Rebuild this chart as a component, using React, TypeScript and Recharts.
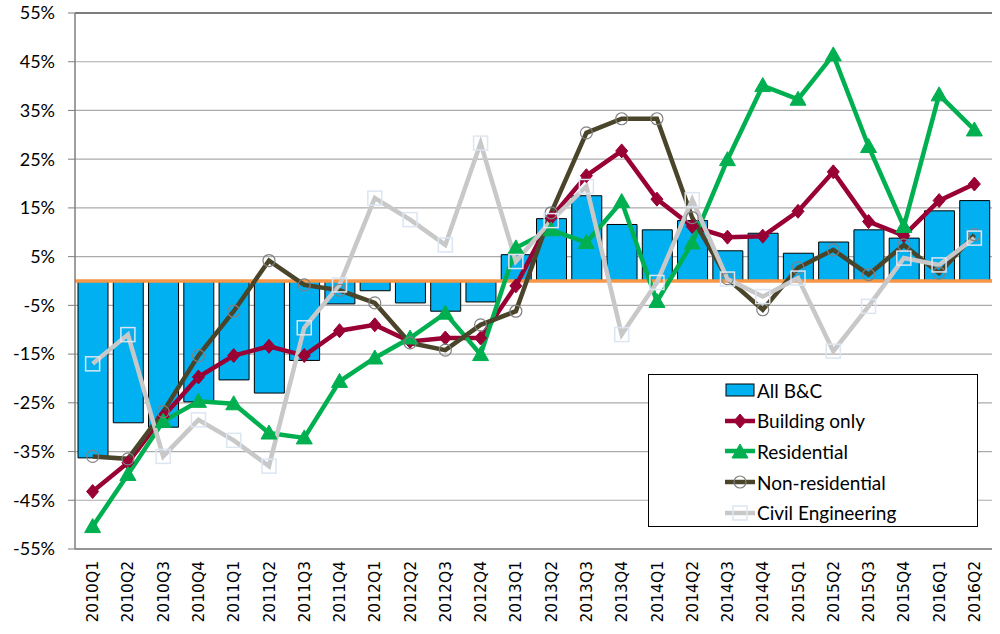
import React from 'react';
import {
  ComposedChart,
  Bar,
  Line,
  XAxis,
  YAxis,
  CartesianGrid,
  ReferenceLine
} from 'recharts';

const quarters = [
  '2010Q1', '2010Q2', '2010Q3', '2010Q4', '2011Q1', '2011Q2', '2011Q3', '2011Q4',
  '2012Q1', '2012Q2', '2012Q3', '2012Q4', '2013Q1', '2013Q2', '2013Q3', '2013Q4',
  '2014Q1', '2014Q2', '2014Q3', '2014Q4', '2015Q1', '2015Q2', '2015Q3', '2015Q4',
  '2016Q1', '2016Q2'
];

const allBC = [
  -36.3, -29.1, -30.0, -24.8, -20.3, -23.0, -16.3, -4.7, -2.0, -4.5, -6.2, -4.3,
  5.4, 12.8, 17.5, 11.6, 10.5, 12.4, 6.2, 9.8, 5.7, 8.0, 10.5, 8.8, 14.4, 16.5
];

const buildingOnly = [
  -43.2, -37.3, -27.8, -19.7, -15.3, -13.4, -15.3, -10.2, -9.0, -12.4, -11.7, -11.7,
  -1.0, 13.0, 21.6, 26.7, 16.8, 11.2, 9.0, 9.2, 14.3, 22.4, 12.2, 9.3, 16.5, 19.9
];

const residential = [
  -50.4, -39.7, -28.8, -24.7, -25.2, -31.2, -32.2, -20.6, -15.8, -11.7, -6.6, -15.1,
  6.8, 10.5, 7.9, 16.3, -4.2, 7.8, 24.9, 40.1, 37.3, 46.4, 27.6, 11.2, 38.2, 31.0
];

const nonResidential = [
  -36.0, -36.5, -26.8, -15.3, -6.2, 4.2, -0.8, -1.9, -4.5, -12.7, -14.2, -9.0,
  -6.2, 14.0, 30.4, 33.3, 33.3, 13.0, 0.5, -5.9, 2.7, 6.4, 1.3, 7.4, 1.6, 9.5
];

const civilEngineering = [
  -17.0, -11.0, -36.0, -28.5, -32.7, -38.0, -9.6, -0.8, 17.0, 12.6, 7.4, 28.3,
  4.0, 12.4, 19.4, -11.0, -0.3, 16.7, 0.4, -3.2, 0.6, -14.4, -5.2, 4.7, 3.3, 8.8
];

const yTicks = [-55, -45, -35, -25, -15, -5, 5, 15, 25, 35, 45, 55];

const data = quarters.map((q, i) => ({
  quarter: q,
  allBC: allBC[i],
  building: buildingOnly[i],
  residential: residential[i],
  nonResidential: nonResidential[i],
  civil: civilEngineering[i]
}));

const RED = '#990033';
const GREEN = '#00B050';
const OLIVE = '#4A452A';
const GREY = '#C8C8C8';
const BLUE = '#00B0F0';

const Diamond = (props: any) => {
  const { cx, cy } = props;
  if (cx == null || cy == null) return null;
  return <path d={`M${cx},${cy - 7}L${cx + 6},${cy}L${cx},${cy + 7}L${cx - 6},${cy}Z`} fill={RED} stroke={RED} />;
};

const Triangle = (props: any) => {
  const { cx, cy } = props;
  if (cx == null || cy == null) return null;
  return <path d={`M${cx},${cy - 8}L${cx + 8},${cy + 6}L${cx - 8},${cy + 6}Z`} fill={GREEN} stroke={GREEN} />;
};

const Ring = (props: any) => {
  const { cx, cy } = props;
  if (cx == null || cy == null) return null;
  return <circle cx={cx} cy={cy} r={6} fill="none" stroke="#808080" strokeWidth={1.2} />;
};

const Square = (props: any) => {
  const { cx, cy } = props;
  if (cx == null || cy == null) return null;
  return <rect x={cx - 7} y={cy - 7} width={14} height={14} fill="none" stroke="#DCE6F2" strokeWidth={1.5} />;
};

const QuarterTick = (props: any) => {
  const { x, y, payload } = props;
  return (
    <g transform={`translate(${x},${y})`}>
      <text
        transform="rotate(-90)"
        textAnchor="end"
        dy="0.36em"
        fill="#000"
        fontFamily="DejaVu Sans"
        fontSize={15.5}
      >
        {payload.value}
      </text>
    </g>
  );
};

const legendItems = [
  { name: 'All B&C', kind: 'bar' },
  { name: 'Building only', kind: 'diamond' },
  { name: 'Residential', kind: 'triangle' },
  { name: 'Non-residential', kind: 'ring' },
  { name: 'Civil Engineering', kind: 'square' }
];

const LegendIcon = ({ kind }: { kind: string }) => {
  if (kind === 'bar') {
    return (
      <svg width={30} height={16}>
        <rect x={1} y={2} width={28} height={12} fill={BLUE} stroke="#000" strokeWidth={1} />
      </svg>
    );
  }
  const color = kind === 'diamond' ? RED : kind === 'triangle' ? GREEN : kind === 'ring' ? OLIVE : GREY;
  return (
    <svg width={30} height={16}>
      <line x1={0} y1={8} x2={30} y2={8} stroke={color} strokeWidth={4.5} />
      {kind === 'diamond' && <Diamond cx={15} cy={8} />}
      {kind === 'triangle' && <Triangle cx={15} cy={9} />}
      {kind === 'ring' && <Ring cx={15} cy={8} />}
      {kind === 'square' && <Square cx={15} cy={8} />}
    </svg>
  );
};

export default function App() {
  return (
    <div style={{ position: 'absolute', left: 0, top: 0, width: 1000, height: 634, background: '#fff' }}>
      <ComposedChart
        width={1000}
        height={634}
        data={data}
        margin={{ top: 13, right: 8, bottom: 0, left: 0 }}
        barCategoryGap={5}
      >
        <CartesianGrid vertical={false} stroke="#ABABAB" strokeWidth={1.2} />
        <XAxis
          dataKey="quarter"
          interval={0}
          height={85}
          tickSize={0}
          tickMargin={12}
          axisLine={{ stroke: '#7F7F7F', strokeWidth: 1.5 }}
          tickLine={false}
          tick={<QuarterTick />}
        />
        <YAxis
          width={75}
          domain={[-55, 55]}
          ticks={yTicks}
          interval={0}
          tickFormatter={(v) => `${v}%`}
          tickSize={7}
          tickMargin={13}
          axisLine={{ stroke: '#7F7F7F', strokeWidth: 1.5 }}
          tickLine={{ stroke: '#7F7F7F' }}
          tick={{ fill: '#000', fontFamily: 'Lato', fontSize: 18 }}
        />
        <ReferenceLine y={55} stroke="#262626" strokeWidth={1.2} />
        <Bar dataKey="allBC" name="All B&C" fill={BLUE} stroke="#000" strokeWidth={1} barSize={30} isAnimationActive={false} />
        <ReferenceLine y={0} stroke="#F79646" strokeWidth={3.5} />
        <Line dataKey="building" name="Building only" stroke={RED} strokeWidth={4.5} dot={<Diamond />} activeDot={false} isAnimationActive={false} />
        <Line dataKey="residential" name="Residential" stroke={GREEN} strokeWidth={4.5} dot={<Triangle />} activeDot={false} isAnimationActive={false} />
        <Line dataKey="nonResidential" name="Non-residential" stroke={OLIVE} strokeWidth={4.5} dot={<Ring />} activeDot={false} isAnimationActive={false} />
        <Line dataKey="civil" name="Civil Engineering" stroke={GREY} strokeWidth={4.5} dot={<Square />} activeDot={false} isAnimationActive={false} />
      </ComposedChart>
      <div
        style={{
          position: 'absolute',
          left: 648,
          top: 374,
          width: 330,
          height: 153,
          boxSizing: 'border-box',
          border: '1.5px solid #000',
          background: '#fff',
          paddingTop: 0,
          paddingLeft: 76,
          fontFamily: 'Lato',
          fontSize: 19,
          color: '#000'
        }}
      >
        {legendItems.map((item) => (
          <div key={item.name} style={{ display: 'flex', alignItems: 'center', height: 30.6 }}>
            <LegendIcon kind={item.kind} />
            <span style={{ marginLeft: 2 }}>{item.name}</span>
          </div>
        ))}
      </div>
    </div>
  );
}
